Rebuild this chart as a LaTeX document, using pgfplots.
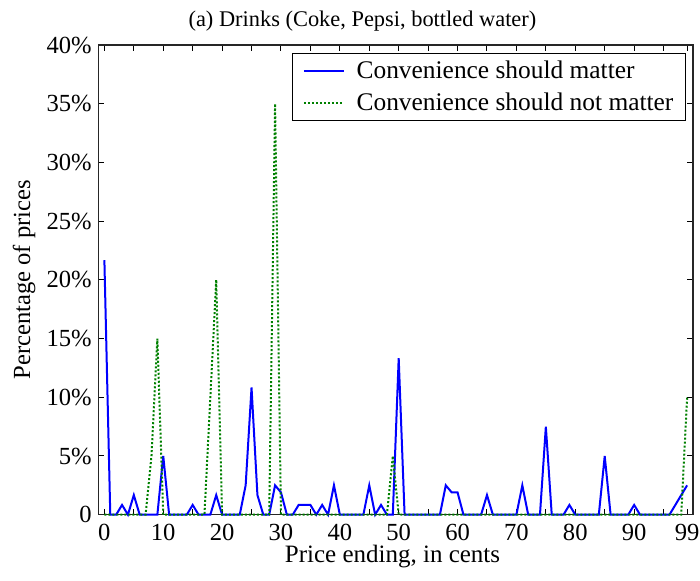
\documentclass[border=0pt]{standalone}
\usepackage{fontspec}
\setmainfont{Liberation Serif}
\usepackage{pgfplots}
\usepackage{pgfplotstable}
\pgfplotsset{compat=1.18}
\definecolor{mblue}{RGB}{0,0,255}
\definecolor{mgreen}{RGB}{0,128,0}

\pgfplotstableread{
x y
0 21.67
1 0
2 0
3 0.83
4 0
5 1.67
6 0
7 0
8 0
9 0
10 5.0
11 0
12 0
13 0
14 0
15 0.83
16 0
17 0
18 0
19 1.67
20 0
21 0
22 0
23 0
24 2.5
25 10.83
26 1.67
27 0
28 0
29 2.5
30 1.9
31 0
32 0
33 0.83
34 0.83
35 0.83
36 0
37 0.83
38 0
39 2.5
40 0
41 0
42 0
43 0
44 0
45 2.5
46 0
47 0.83
48 0
49 0
50 13.33
51 0
52 0
53 0
54 0
55 0
56 0
57 0
58 2.5
59 1.9
60 1.9
61 0
62 0
63 0
64 0
65 1.67
66 0
67 0
68 0
69 0
70 0
71 2.5
72 0
73 0
74 0
75 7.5
76 0
77 0
78 0
79 0.83
80 0
81 0
82 0
83 0
84 0
85 5.0
86 0
87 0
88 0
89 0
90 0.83
91 0
92 0
93 0
94 0
95 0
96 0
97 0.83
98 1.67
99 2.5
}\matter

\pgfplotstableread{
x y
0 0
1 0
2 0
3 0
4 0
5 0
6 0
7 0
8 5
9 15
10 0
11 0
12 0
13 0
14 0
15 0
16 0
17 0
18 10
19 20
20 0
21 0
22 0
23 0
24 0
25 0
26 0
27 0
28 0
29 35
30 0
31 0
32 0
33 0
34 0
35 0
36 0
37 0
38 0
39 0
40 0
41 0
42 0
43 0
44 0
45 0
46 0
47 0
48 0
49 5
50 0
51 0
52 0
53 0
54 0
55 0
56 0
57 0
58 0
59 0
60 0
61 0
62 0
63 0
64 0
65 0
66 0
67 0
68 0
69 0
70 0
71 0
72 0
73 0
74 0
75 0
76 0
77 0
78 0
79 0
80 0
81 0
82 0
83 0
84 0
85 0
86 0
87 0
88 0
89 0
90 0
91 0
92 0
93 0
94 0
95 0
96 0
97 0
98 0
99 10
}\notmatter

\begin{document}
\begin{tikzpicture}
\useasboundingbox (-49.25pt,-33.15pt) rectangle (300.75pt,257.35pt);
\begin{axis}[
  at={(0pt,0pt)}, anchor=south west,
  scale only axis, width=297.25pt, height=234.85pt,
  xmin=-1, xmax=100, ymin=0, ymax=40,
  clip=false,
  axis line style={line width=0.6pt, black!85},
  tick align=inside,
  major tick length=3pt, minor tick length=3pt,
  every tick/.style={line width=0.5pt, black},
  minor tick style={line width=0.5pt, black},
  xtick={0,10,20,30,40,50,60,70,80,90,99},
  xticklabels={0,10,20,30,40,50,60,70,80,90,99},
  minor xtick={5,15,25,35,45,55,65,75,85,95},
  ytick={0,5,10,15,20,25,30,35,40},
  yticklabels={0,5\%,10\%,15\%,20\%,25\%,30\%,35\%,40\%},
  ticklabel style={font=\fontsize{12.3}{14}\selectfont},
  xticklabel style={anchor=base, yshift=-12.8pt},
  yticklabel style={anchor=east, inner sep=0pt, xshift=-3.25pt},
  /pgf/number format/assume math mode=true,
  title={(a) Drinks (Coke, Pepsi, bottled water)},
  title style={at={(0.444,1)}, anchor=base, yshift=3pt, font=\fontsize{11.2}{13}\selectfont},
  xlabel={Price ending, in cents},
  xlabel style={at={(axis description cs:0.4945,0)}, anchor=base, yshift=-23.8pt, font=\fontsize{12.5}{14}\selectfont},
  ylabel={Percentage of prices},
  ylabel style={at={(axis description cs:-0.1152,0.5)}, anchor=base, font=\fontsize{12.3}{14}\selectfont},
  legend style={at={(0.988,0.982)}, anchor=north east, draw=black, line width=0.5pt, fill=white,
    font=\fontsize{12.7}{14}\selectfont, inner xsep=5pt, inner ysep=2.5pt,
    nodes={inner sep=1pt}, row sep=3.5pt, column sep=5pt, cells={anchor=west}},
  legend image code/.code={\draw[#1] (0cm,0cm) -- (0.7cm,0cm);},
]
\addplot[mblue, line width=1pt] table[x=x, y=y] {\matter};
\addlegendentry{Convenience should matter}
\addplot[mgreen, line width=1pt, dash pattern=on 1pt off 1pt] table[x=x, y=y] {\notmatter};
\addlegendentry{Convenience should not matter}
\end{axis}
\end{tikzpicture}
\end{document}
